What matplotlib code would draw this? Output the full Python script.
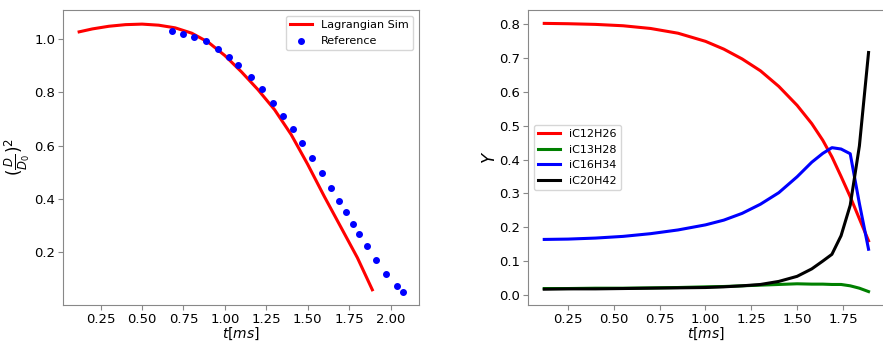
import matplotlib
matplotlib.use('Agg')
import matplotlib.pyplot as plt

# droplet diameter
t_sim = [0.12, 0.2, 0.3, 0.4, 0.5, 0.6, 0.7, 0.8, 0.9, 1.0, 1.1, 1.2, 1.3, 1.4, 1.5, 1.6, 1.7, 1.8, 1.89]
d2_sim = [1.027, 1.038, 1.048, 1.054, 1.056, 1.052, 1.042, 1.022, 0.988, 0.938, 0.877, 0.81, 0.735,
          0.642, 0.53, 0.41, 0.295, 0.18, 0.06]

t_ref = [0.681, 0.746, 0.816, 0.884, 0.960, 1.023, 1.081, 1.157, 1.221, 1.290, 1.352, 1.410, 1.468,
         1.528, 1.585, 1.639, 1.687, 1.729, 1.773, 1.809, 1.857, 1.914, 1.974, 2.036, 2.074]
d2_ref = [1.029, 1.019, 1.009, 0.992, 0.964, 0.934, 0.902, 0.859, 0.812, 0.762, 0.712, 0.662, 0.610,
          0.555, 0.497, 0.441, 0.392, 0.351, 0.306, 0.269, 0.223, 0.170, 0.118, 0.074, 0.050]

# species mass fractions
t_y = [0.12, 0.25, 0.4, 0.55, 0.7, 0.85, 1.0, 1.1, 1.2, 1.3, 1.4, 1.5, 1.58, 1.64, 1.69, 1.74, 1.79, 1.84, 1.89]
species = ['iC12H26', 'iC13H28', 'iC16H34', 'iC20H42']
y_c12 = [0.802, 0.801, 0.799, 0.795, 0.787, 0.773, 0.749, 0.726, 0.697, 0.662, 0.616, 0.560, 0.506,
         0.457, 0.408, 0.35, 0.29, 0.225, 0.16]
y_c13 = [0.019, 0.019, 0.020, 0.020, 0.021, 0.022, 0.024, 0.025, 0.027, 0.029, 0.031, 0.033, 0.032,
         0.032, 0.031, 0.031, 0.027, 0.020, 0.010]
y_c16 = [0.164, 0.165, 0.168, 0.173, 0.181, 0.192, 0.207, 0.221, 0.241, 0.268, 0.302, 0.349, 0.392,
         0.418, 0.435, 0.431, 0.417, 0.27, 0.135]
y_c20 = [0.017, 0.018, 0.018, 0.019, 0.020, 0.021, 0.022, 0.024, 0.027, 0.031, 0.040, 0.055, 0.077,
         0.10, 0.12, 0.175, 0.265, 0.44, 0.716]
colors = ['red', 'green', 'blue', 'black']

plt.rcParams['font.size'] = 9.5
plt.rcParams['xtick.major.pad'] = 2
plt.rcParams['ytick.major.pad'] = 2
fig = plt.figure(figsize=(8.83, 3.44), dpi=100)
ax1 = fig.add_axes([0.0713, 0.1134, 0.4032, 0.8576])
ax2 = fig.add_axes([0.598, 0.1134, 0.404, 0.8576])

ax1.plot(t_sim, d2_sim, color='red', lw=2.2, label='Lagrangian Sim')
ax1.scatter(t_ref, d2_ref, color='blue', s=16, label='Reference', zorder=3)
ax1.set_xlabel(r'$t[ms]$', fontsize=10, labelpad=0)
ax1.set_ylabel(r'$(\frac{D}{D_0})^2$', fontsize=12, labelpad=2)
ax1.set_xticks([0.25, 0.5, 0.75, 1.0, 1.25, 1.5, 1.75, 2.0])
ax1.set_ylim(0.003, 1.109)
ax1.legend(loc='upper right', fontsize=8)

for name, vals, c in zip(species, [y_c12, y_c13, y_c16, y_c20], colors):
    ax2.plot(t_y, vals, color=c, lw=2.2, label=name)
ax2.set_xlabel(r'$t[ms]$', fontsize=10, labelpad=0)
ax2.set_ylabel(r'$Y$', fontsize=12, labelpad=0)
ax2.set_xticks([0.25, 0.5, 0.75, 1.0, 1.25, 1.5, 1.75])
ax2.legend(loc='center left', fontsize=8)

for ax in (ax1, ax2):
    for sp in ax.spines.values():
        sp.set_color('#888888')
    ax.tick_params(color='#888888')

fig.savefig('out.png', dpi=100)
